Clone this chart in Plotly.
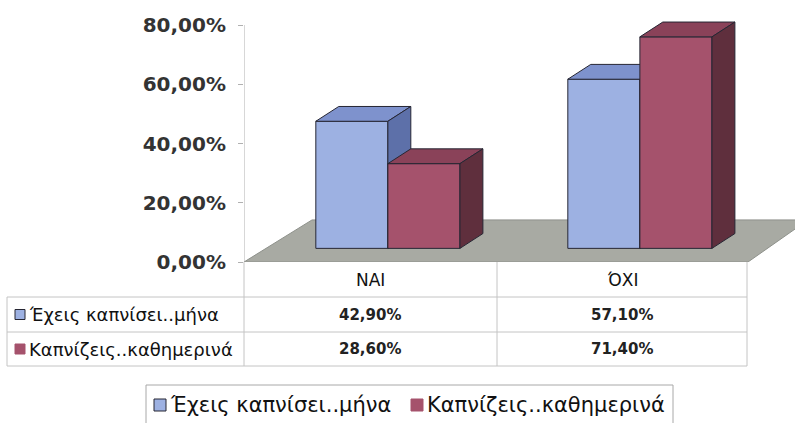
import plotly.graph_objects as go

# ---- data ----
categories = ["ΝΑΙ", "ΌΧΙ"]
series_names = ["Έχεις καπνίσει..μήνα", "Καπνίζεις..καθημερινά"]
smoked_month = [42.9, 57.1]
smoke_daily = [28.6, 71.4]
y_ticks = [0, 20, 40, 60, 80]
y_tick_labels = ["0,00%", "20,00%", "40,00%", "60,00%", "80,00%"]

# ---- style / layout constants ----
W, H = 795, 423
PX_X = 252.0          # px per category unit
PX_Y = 2.9625         # px per percent
AX_LEFT, AX_ZERO = 244, 262
BASE = 4.6            # bars stand a little behind the front edge of the floor
DX, DY = 0.091, 5.0   # 3D depth offsets
BAR_W = 0.286
SHIFT = 0.071
FLOOR_DEPTH = 14.2

front_cols = ["#9DB1E2", "#A5526C"]
top_cols = ["#7E92CD", "#8A4259"]
side_cols = ["#5D70A9", "#5F2F3D"]
edge = "#262633"

x_range = [-0.5, -0.5 + (W - AX_LEFT) / PX_X]
y_range = [0, AX_ZERO / PX_Y]


def px_x(p):
    return p / W


def px_y(p):
    return 1 - p / H


fig = go.Figure()

# floor
fx = [-0.5, 1.5, 1.5 + 60 / PX_X, -0.5 + 68 / PX_X, -0.5]
fy = [0, 0, FLOOR_DEPTH, FLOOR_DEPTH, 0]
fig.add_trace(go.Scatter(x=fx, y=fy, mode="lines", fill="toself",
                         fillcolor="#A8AAA3", line=dict(color="#8E918B", width=1),
                         hoverinfo="skip", showlegend=False, zorder=0))

all_series = [smoked_month, smoke_daily]
for s, vals in enumerate(all_series):
    off = SHIFT - BAR_W + s * BAR_W
    fig.add_trace(go.Bar(x=list(range(len(categories))), y=vals, base=BASE,
                         offset=off, width=BAR_W, name=series_names[s],
                         marker=dict(color=front_cols[s], line=dict(color=edge, width=1)),
                         showlegend=False, zorder=s + 1))
    for i, v in enumerate(vals):
        x0 = i + off
        x1 = x0 + BAR_W
        y0 = BASE
        y1 = BASE + v
        # top face
        fig.add_trace(go.Scatter(
            x=[x0, x1, x1 + DX, x0 + DX, x0], y=[y1, y1, y1 + DY, y1 + DY, y1],
            mode="lines", fill="toself", fillcolor=top_cols[s],
            line=dict(color=edge, width=1), hoverinfo="skip", showlegend=False,
            zorder=s + 1))
        # side face
        fig.add_trace(go.Scatter(
            x=[x1, x1 + DX, x1 + DX, x1, x1], y=[y0, y0 + DY, y1 + DY, y1, y0],
            mode="lines", fill="toself", fillcolor=side_cols[s],
            line=dict(color=edge, width=1), hoverinfo="skip", showlegend=False,
            zorder=s + 1))

shapes = []
grid = "#C4C4C4"
# y axis line
shapes.append(dict(type="line", xref="x", yref="y", x0=-0.5, x1=-0.5, y0=0, y1=80,
                   line=dict(color="#B0B0B0", width=1)))
# data table lines
T_L, T_R = 7, 747
R0, R1, R2 = 297, 332, 366
for yy in (R0, R1, R2):
    shapes.append(dict(type="line", xref="paper", yref="paper", x0=px_x(T_L), x1=px_x(T_R),
                       y0=px_y(yy), y1=px_y(yy), line=dict(color=grid, width=1)))
shapes.append(dict(type="line", xref="paper", yref="paper", x0=px_x(T_L), x1=px_x(T_L),
                   y0=px_y(R0), y1=px_y(R2), line=dict(color=grid, width=1)))
for xx in (AX_LEFT, 497, T_R):
    shapes.append(dict(type="line", xref="paper", yref="paper", x0=px_x(xx), x1=px_x(xx),
                       y0=px_y(AX_ZERO), y1=px_y(R2), line=dict(color=grid, width=1)))

annotations = []
col_centers = [370, 622]
for i, c in enumerate(categories):
    annotations.append(dict(xref="paper", yref="paper", x=px_x(col_centers[i]),
                            y=px_y((AX_ZERO + R0) / 2), text=c, showarrow=False,
                            font=dict(family="DejaVu Sans", size=17, color="#111111"),
                            xanchor="center", yanchor="middle"))

row_mids = [(R0 + R1) / 2, (R1 + R2) / 2]
for s, vals in enumerate(all_series):
    ym = row_mids[s]
    shapes.append(dict(type="rect", xref="paper", yref="paper",
                       x0=px_x(15), x1=px_x(25), y0=px_y(ym - 5), y1=px_y(ym + 5),
                       fillcolor=front_cols[s],
                       line=dict(color=edge if s == 0 else front_cols[s], width=1)))
    annotations.append(dict(xref="paper", yref="paper", x=px_x(27), y=px_y(ym),
                            text=series_names[s], showarrow=False,
                            font=dict(family="DejaVu Sans", size=18, color="#111111"),
                            xanchor="left", yanchor="middle"))
    for i, v in enumerate(vals):
        annotations.append(dict(xref="paper", yref="paper", x=px_x(col_centers[i]), y=px_y(ym),
                                text=f"{v:.2f}".replace(".", ",") + "%", showarrow=False,
                                font=dict(family="DejaVu Sans", size=15, color="#222222",
                                          weight="bold"),
                                xanchor="center", yanchor="middle"))

# legend (box, keys, labels)
shapes.append(dict(type="rect", xref="paper", yref="paper",
                   x0=px_x(146), x1=px_x(673), y0=px_y(385), y1=px_y(426),
                   fillcolor="white", line=dict(color="#A8A8A8", width=1)))
leg_keys = [154, 411]
for s in range(len(series_names)):
    kx = leg_keys[s]
    shapes.append(dict(type="rect", xref="paper", yref="paper",
                       x0=px_x(kx), x1=px_x(kx + 12), y0=px_y(399), y1=px_y(411),
                       fillcolor=front_cols[s],
                       line=dict(color=edge if s == 0 else front_cols[s], width=1)))
    annotations.append(dict(xref="paper", yref="paper", x=px_x(kx + 14), y=px_y(405),
                            text=series_names[s], showarrow=False,
                            font=dict(family="DejaVu Sans", size=21, color="#111111"),
                            xanchor="left", yanchor="middle"))

fig.update_layout(
    width=W, height=H,
    margin=dict(l=0, r=0, t=0, b=0),
    paper_bgcolor="white", plot_bgcolor="white",
    barmode="overlay",
    shapes=shapes, annotations=annotations,
    showlegend=False,
    xaxis=dict(domain=[px_x(AX_LEFT), 1], range=x_range, visible=False, fixedrange=True,
               automargin=False),
    yaxis=dict(domain=[px_y(AX_ZERO), 1], range=y_range, tickmode="array",
               tickvals=y_ticks, ticktext=y_tick_labels,
               showgrid=False, zeroline=False, automargin=False,
               showline=False, ticks="outside", ticklen=5, tickcolor="#B0B0B0",
               ticklabelstandoff=8,
               tickfont=dict(family="DejaVu Sans", size=20, color="#333333", weight="bold"),
               fixedrange=True),
)

fig.write_html("out.html", config={"displayModeBar": False},
               post_script="document.body.style.margin='0';document.body.style.overflow='hidden';")
